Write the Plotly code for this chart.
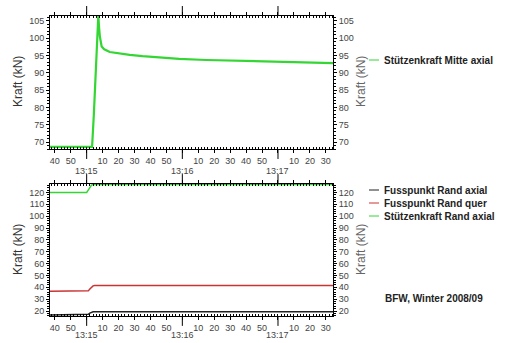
import plotly.graph_objects as go

# time in seconds after 13:14:00
t_mitte = [37, 63.4, 64.5, 65.5, 66.5, 67.3, 67.8, 68.3, 69.4, 71, 74.5, 80, 87, 95, 105, 118, 135, 150, 165, 180, 195, 205, 214.5]
mitte = [68.6, 68.6, 78, 90, 100, 106.5, 103, 100.4, 97.6, 96.8, 96.0, 95.6, 95.2, 94.8, 94.4, 94.0, 93.7, 93.5, 93.3, 93.2, 93.0, 92.9, 92.8]

t_rand = [37, 60, 61, 62, 63, 64, 65, 90, 120, 150, 180, 214.5]
fuss_axial = [16.6, 16.6, 17.2, 18.2, 19.0, 19.3, 19.3, 19.3, 19.3, 19.3, 19.3, 19.3]
fuss_quer = [36.6, 36.6, 37.0, 38.6, 40.2, 41.2, 41.5, 41.4, 41.5, 41.4, 41.5, 41.5]
stuetz_rand = [120.0, 120.0, 122.0, 124.8, 126.2, 126.6, 126.6, 126.6, 126.6, 126.6, 126.6, 126.6]

tick_sec = [40, 50, 60, 70, 80, 90, 100, 110, 120, 130, 140, 150, 160, 170, 180, 190, 200, 210]
tick_lbl = ["40", "50", "", "10", "20", "30", "40", "50", "", "10", "20", "30", "40", "50", "", "10", "20", "30"]
minute_sec = [60, 120, 180]
minute_lbl = ["13:15", "13:16", "13:17"]

name_top = ["Stützenkraft Mitte axial"]
name_bot = ["Fusspunkt Rand axial", "Fusspunkt Rand quer", "Stützenkraft Rand axial"]
col_top = ["#33d633"]
col_bot = ["#222222", "#cc3333", "#33d633"]
y_title = "Kraft (kN)"
note = "BFW, Winter 2008/09"

W, H = 512, 343
def px(x): return x / W
def py(y): return 1 - y / H

FONT = "Liberation Sans, Arial, sans-serif"
tickfont = dict(family=FONT, size=9, color="#444")

fig = go.Figure()
fig.add_trace(go.Scatter(x=t_mitte, y=mitte, mode="lines", line=dict(color=col_top[0], width=2.2),
                         xaxis="x", yaxis="y", showlegend=False))
fig.add_trace(go.Scatter(x=t_mitte, y=mitte, mode="lines", line=dict(width=0), opacity=0,
                         xaxis="x", yaxis="y3", showlegend=False, hoverinfo="skip"))
for vals, c in zip([fuss_axial, fuss_quer, stuetz_rand], col_bot):
    fig.add_trace(go.Scatter(x=t_rand, y=vals, mode="lines", line=dict(color=c, width=1.5),
                             xaxis="x2", yaxis="y2", showlegend=False))
fig.add_trace(go.Scatter(x=t_rand, y=fuss_axial, mode="lines", line=dict(width=0), opacity=0,
                         xaxis="x2", yaxis="y4", showlegend=False, hoverinfo="skip"))

xr = [37, 214.5]
xcommon = dict(range=xr, tickmode="array", tickvals=tick_sec, ticktext=tick_lbl,
               ticks="outside", ticklen=3, tickcolor="#000", tickfont=tickfont,
               showline=True, linecolor="#000", linewidth=1, mirror="ticks",
               showgrid=False, zeroline=False,
               minor=dict(dtick=2, tick0=0, ticks="inside", ticklen=2, tickcolor="#000", showgrid=False))
ycommon = dict(ticks="outside", ticklen=3, tickcolor="#000", tickfont=tickfont,
               showline=True, linecolor="#000", linewidth=1, showgrid=False, zeroline=False)

dom_x = [px(50), px(333)]
dom_top = [py(149), py(16)]
dom_bot = [py(316), py(184)]
rtop = [68.0, 106.4]
rbot = [15.8, 127.1]

fig.update_layout(
    width=W, height=H, margin=dict(l=0, r=0, t=0, b=0),
    paper_bgcolor="white", plot_bgcolor="white",
    xaxis=dict(domain=dom_x, anchor="y", **xcommon),
    yaxis=dict(domain=dom_top, anchor="x", range=rtop, dtick=5, tick0=0,
               minor=dict(dtick=1, ticks="outside", ticklen=2, tickcolor="#000"), **ycommon),
    yaxis3=dict(overlaying="y", side="right", anchor="x", range=rtop, dtick=5, tick0=0,
                minor=dict(dtick=1, ticks="outside", ticklen=2, tickcolor="#000"), **ycommon),
    xaxis2=dict(domain=dom_x, anchor="y2", **xcommon),
    yaxis2=dict(domain=dom_bot, anchor="x2", range=rbot, dtick=10, tick0=0,
                minor=dict(dtick=2, ticks="outside", ticklen=2, tickcolor="#000"), **ycommon),
    yaxis4=dict(overlaying="y2", side="right", anchor="x2", range=rbot, dtick=10, tick0=0,
                minor=dict(dtick=2, ticks="outside", ticklen=2, tickcolor="#000"), **ycommon),
)

shapes = []
annots = []
for xa, ya, yb in [("x", "y", 171), ("x2", "y2", 335)]:
    for s, lbl in zip(minute_sec, minute_lbl):
        for y0, y1 in [(0, -0.075), (1, 1.075)]:
            shapes.append(dict(type="line", xref=xa, yref=ya + " domain", x0=s, x1=s, y0=y0, y1=y1,
                               line=dict(color="#000", width=1)))
        annots.append(dict(x=s, y=py(yb), xref=xa, yref="paper", text=lbl, showarrow=False,
                           font=tickfont, xanchor="center", yanchor="middle"))

# axis titles
for yy in [82, 250]:
    annots.append(dict(x=px(18), y=py(yy), xref="paper", yref="paper", text=y_title, textangle=-90,
                       showarrow=False, font=dict(family=FONT, size=12, color="#333"),
                       xanchor="center", yanchor="middle"))
    annots.append(dict(x=px(361), y=py(yy), xref="paper", yref="paper", text=y_title, textangle=-90,
                       showarrow=False, font=dict(family=FONT, size=12, color="#666"),
                       xanchor="center", yanchor="middle"))

# legends
lx0, lx1, tx = 369, 379, 382
leg_items = [(name_top[0], col_top[0], 60)] + [(n, c, y) for n, c, y in zip(name_bot, col_bot, [190, 203, 216])]
for n, c, y in leg_items:
    shapes.append(dict(type="line", xref="paper", yref="paper", x0=px(lx0), x1=px(lx1), y0=py(y), y1=py(y),
                       line=dict(color=c, width=1)))
    annots.append(dict(x=px(tx), y=py(y), xref="paper", yref="paper", text="<b>" + n + "</b>", showarrow=False,
                       font=dict(family=FONT, size=10, color="#222"), xanchor="left", yanchor="middle"))
annots.append(dict(x=px(383), y=py(298), xref="paper", yref="paper", text="<b>" + note + "</b>", showarrow=False,
                   font=dict(family=FONT, size=10, color="#222"), xanchor="left", yanchor="middle"))

fig.update_layout(shapes=shapes, annotations=annots)
fig.write_html("out.html", config={"displayModeBar": False},
               post_script="document.body.style.margin='0';")
